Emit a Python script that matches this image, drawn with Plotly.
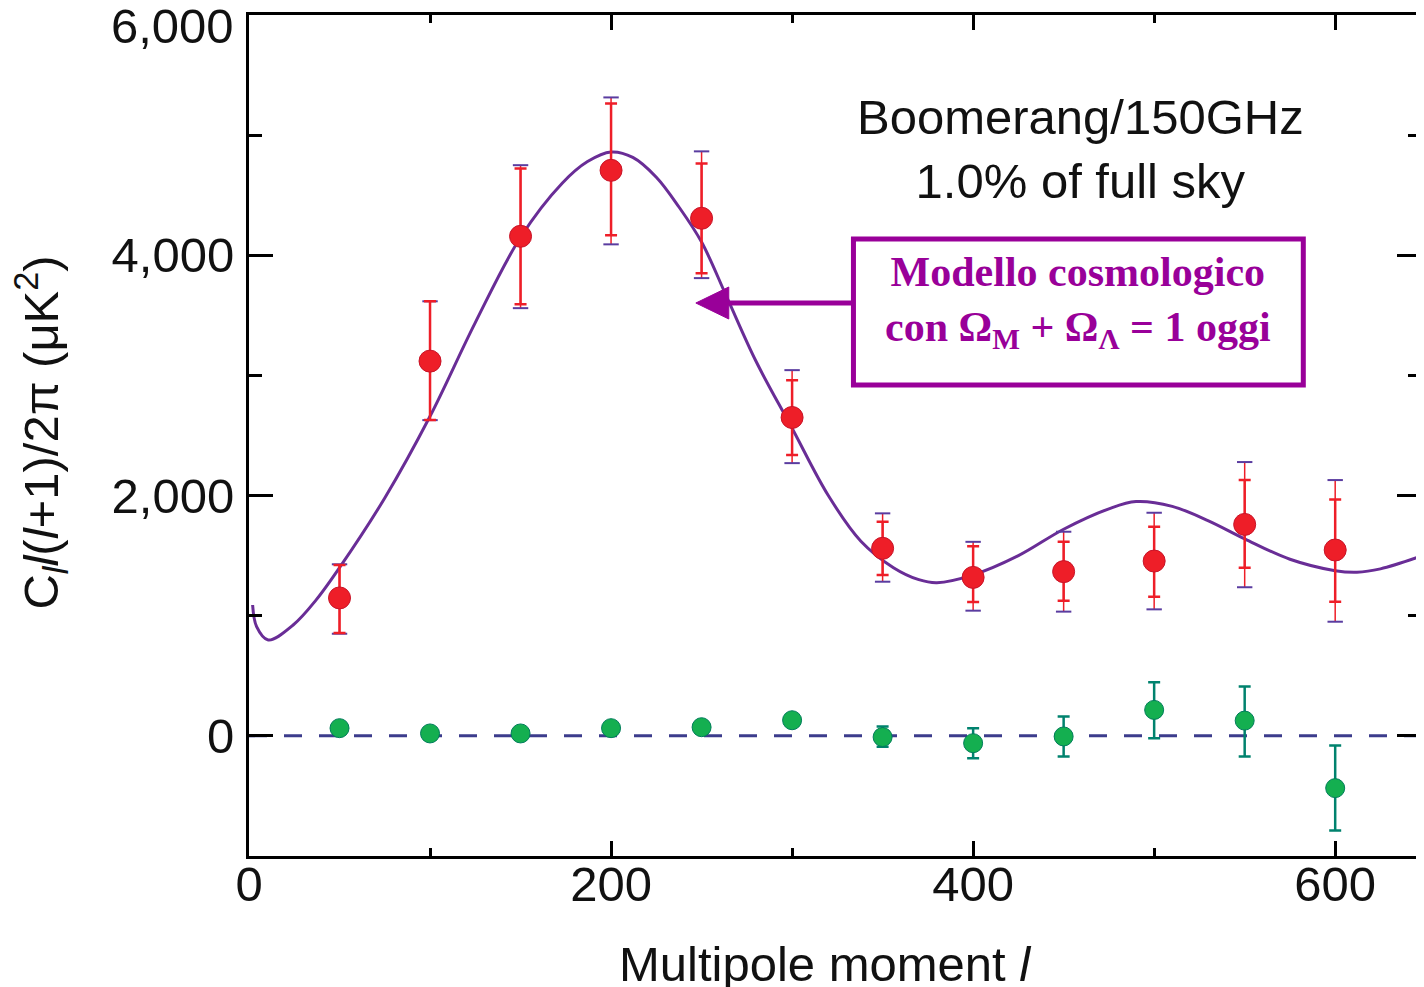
import plotly.graph_objects as go

# ---------------- data ----------------
multipole = [50, 100, 150, 200, 250, 300, 350, 400, 450, 500, 550, 600]

red_power = [1148, 3119, 4158, 4707, 4308, 2650, 1561, 1319, 1367, 1455, 1760, 1547]
red_err_hi = [274, 498, 565, 557, 457, 310, 221, 260, 249, 286, 369, 421]
red_err_lo = [291, 491, 565, 541, 458, 313, 222, 205, 242, 297, 360, 430]
red_outer_hi = [280, 498, 592, 607, 557, 394, 291, 296, 332, 402, 519, 582]
red_outer_lo = [298, 491, 598, 616, 498, 380, 278, 277, 333, 402, 523, 597]

green_power = [64, 20, 20, 64, 72, 130, -10, -61, -5, 216, 127, -435]
green_err_hi = [30, 30, 30, 30, 30, 30, 87, 125, 166, 230, 283, 355]
green_err_lo = [30, 30, 30, 30, 30, 30, 80, 125, 167, 236, 299, 352]

model_l = [2, 4.2, 10.6, 24.4, 37, 50, 75, 100, 125, 150, 173, 187, 200, 212, 225,
           237.5, 250, 264, 280, 300, 320, 338, 356, 370, 380, 400,
           425, 450, 475, 490, 510, 530, 550, 575, 600, 612, 625, 647.4]
model_power = [1089, 909, 798, 923, 1130, 1400, 1980, 2660, 3440, 4150, 4600, 4780, 4860, 4815, 4650,
               4402, 4110, 3650, 3120, 2560, 2000, 1620, 1400, 1300, 1275, 1340,
               1500, 1720, 1890, 1950, 1910, 1790, 1640, 1470, 1375, 1362, 1390, 1495]

x_ticks = [0, 200, 400, 600]
y_ticks = [0, 2000, 4000, 6000]
y_ticktext = ["0", "2,000", "4,000", ""]

PURPLE = "rgb(153,0,153)"
CURVE = "rgb(105,45,150)"
RED = "rgb(238,30,40)"
CAPC = "rgb(90,60,160)"
FS = 49

fig = go.Figure()

# model curve
fig.add_trace(go.Scatter(x=model_l, y=model_power, mode="lines",
                         line=dict(color=CURVE, width=3, shape="spline", smoothing=1.0),
                         hoverinfo="skip", showlegend=False))

# outer (total) error extents for red points
fig.add_trace(go.Scatter(x=multipole, y=red_power, mode="markers",
                         marker=dict(size=1, opacity=0),
                         error_y=dict(type="data", symmetric=False, array=red_outer_hi,
                                      arrayminus=red_outer_lo, color=RED, thickness=1.5, width=0),
                         showlegend=False))
cap_x = multipole + multipole
cap_y = [v + e for v, e in zip(red_power, red_outer_hi)] + [v - e for v, e in zip(red_power, red_outer_lo)]
fig.add_trace(go.Scatter(x=cap_x, y=cap_y, mode="markers",
                         marker=dict(symbol="line-ew", size=11, line=dict(color=CAPC, width=2)),
                         showlegend=False))

# red data points
fig.add_trace(go.Scatter(x=multipole, y=red_power, mode="markers",
                         marker=dict(size=22, color=RED, line=dict(color="rgb(200,20,40)", width=1)),
                         error_y=dict(type="data", symmetric=False, array=red_err_hi,
                                      arrayminus=red_err_lo, color=RED, thickness=2.5, width=6),
                         showlegend=False))

# green data points
fig.add_trace(go.Scatter(x=multipole, y=green_power, mode="markers",
                         marker=dict(size=19, color="rgb(20,175,80)", line=dict(color="rgb(0,125,90)", width=1)),
                         error_y=dict(type="data", symmetric=False, array=green_err_hi,
                                      arrayminus=green_err_lo, color="rgb(0,130,110)", thickness=2.5, width=6),
                         showlegend=False))

# page geometry (browser body has an 8px margin)
OFF = 8
PL, PR, PT, PB = 249, 1424, 15, 856   # plot area in page pixels
pw, ph = PR - PL, PB - PT

def px(x):
    return (x - PL) / pw

def py(y):
    return (PB - y) / ph

W, H = PR - OFF, 987 - OFF
L, T = PL - OFF, PT - OFF
B = H - T - ph

shapes = [
    dict(type="line", xref="paper", yref="y", x0=0, x1=1, y0=0, y1=0,
         line=dict(color="rgb(60,60,140)", width=3, dash="18px,17px"), layer="below"),
    dict(type="rect", xref="paper", yref="paper", x0=px(855), x1=px(1306), y0=py(385), y1=py(239),
         line=dict(color=PURPLE, width=5)),
    dict(type="line", xref="paper", yref="paper", x0=px(722), x1=px(855), y0=py(303), y1=py(303),
         line=dict(color=PURPLE, width=5)),
    dict(type="path", xref="paper", yref="paper",
         path=f"M {px(697)} {py(303)} L {px(730)} {py(287)} L {px(730)} {py(319)} Z",
         fillcolor=PURPLE, line=dict(color=PURPLE, width=1)),
]

annotations = [
    dict(text="Boomerang/150GHz<br>1.0% of full sky", xref="paper", yref="paper",
         x=px(1083), y=py(149), xanchor="center", yanchor="middle", showarrow=False,
         font=dict(size=FS, color="#111")),
    dict(text="<b>Modello cosmologico<br>con Ω<sub>M</sub> + Ω<sub>Λ</sub> = 1 oggi</b>",
         xref="paper", yref="paper", x=px(1080), y=py(302), xanchor="center", yanchor="middle",
         showarrow=False, font=dict(family="Liberation Serif, Times New Roman, serif", size=42, color=PURPLE)),
    dict(text="6,000", xref="paper", yref="paper", x=px(236), y=py(26), xanchor="right",
         yanchor="middle", showarrow=False, font=dict(size=FS, color="#111")),
    dict(text="Multipole moment <i>l</i>", xref="paper", yref="paper", x=px(826), y=py(964),
         xanchor="center", yanchor="middle", showarrow=False, font=dict(size=FS, color="#111")),
    dict(text="C<sub><i>l</i></sub><i>l</i>(<i>l</i>+1)/2π (μK<sup>2</sup>)", xref="paper", yref="paper",
         x=px(40), y=py(433), xanchor="center", yanchor="middle", textangle=-90, showarrow=False,
         font=dict(size=FS, color="#111")),
]

fig.update_layout(
    width=W, height=H,
    margin=dict(l=L, r=0, t=T, b=B, pad=0),
    paper_bgcolor="white", plot_bgcolor="white",
    font=dict(family="Liberation Sans, Arial, Helvetica, sans-serif", size=FS, color="#111"),
    shapes=shapes, annotations=annotations, showlegend=False,
)
fig.update_xaxes(range=[0, 647.4], tickvals=x_ticks, ticks="inside", ticklen=15, tickwidth=3,
                 tickcolor="black", showline=True, linecolor="black", linewidth=3, mirror="ticks",
                 showgrid=False, zeroline=False, ticklabelstandoff=-17,
                 minor=dict(dtick=100, ticks="inside", ticklen=8, tickwidth=3, tickcolor="black"))
fig.update_yaxes(range=[-1000, 6000], tickvals=y_ticks, ticktext=y_ticktext, ticks="inside",
                 ticklen=24, tickwidth=3, tickcolor="black", showline=True, linecolor="black",
                 linewidth=3, mirror="ticks", showgrid=False, zeroline=False, ticklabelstandoff=2,
                 minor=dict(dtick=1000, ticks="inside", ticklen=13, tickwidth=3, tickcolor="black"))

fig.write_html("out.html")
